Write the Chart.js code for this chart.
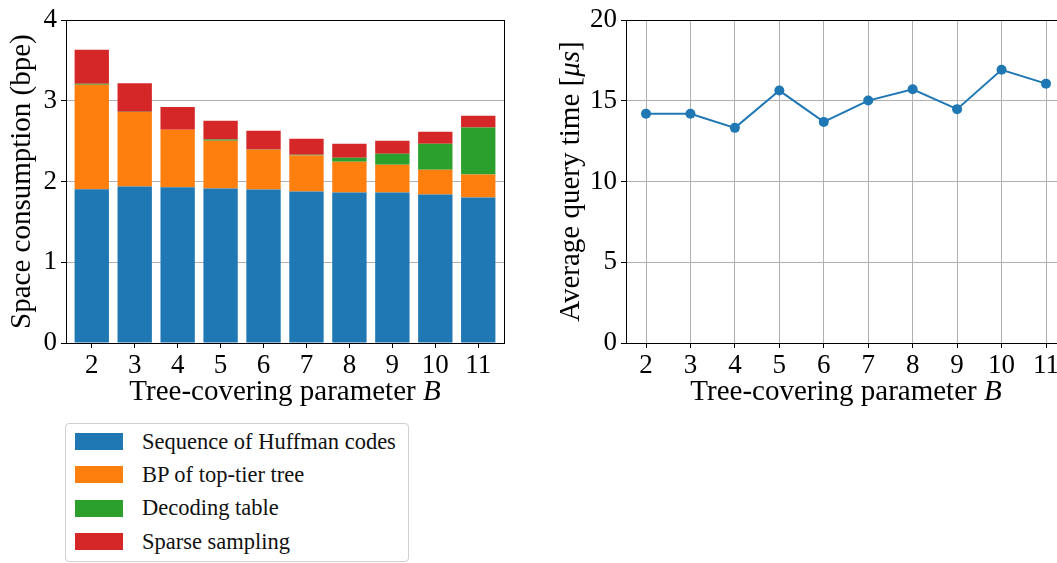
<!DOCTYPE html>
<html>
<head>
<meta charset="utf-8">
<script src="https://cdn.jsdelivr.net/npm/chart.js@4.4.0/dist/chart.umd.min.js"></script>
<style>
  html, body { margin: 0; padding: 0; background: #fff; }
  body { width: 1057px; height: 563px; overflow: hidden; position: relative; font-family: 'Liberation Serif', serif; }
  #leftWrap { position: absolute; left: 0; top: 0; }
  #rightWrap { position: absolute; left: 520px; top: 0; }
  #legend {
    position: absolute; left: 65px; top: 423px; width: 344px; height: 139px;
    border: 1px solid #d0d0d0; border-radius: 4px; box-sizing: border-box;
    padding-top: 1px;
  }
  .item { height: 33.3px; display: flex; align-items: center; font-size: 22.5px; color: #111; }
  .swatch { width: 48px; height: 17px; margin-left: 9px; margin-right: 19px; }
</style>
</head>
<body>
<div id="leftWrap"><canvas id="spaceChart" width="520" height="415"></canvas></div>
<div id="rightWrap"><canvas id="timeChart" width="560" height="415"></canvas></div>
<div id="legend"></div>

<script>
'use strict';

// tree-covering parameter B
let params = [2, 3, 4, 5, 6, 7, 8, 9, 10, 11];

// space consumption in bpe, stacked parts
let huffman  = [1.905, 1.938, 1.930, 1.914, 1.903, 1.877, 1.864, 1.864, 1.840, 1.803];
let bpTop    = [1.295, 0.926, 0.712, 0.592, 0.492, 0.446, 0.383, 0.346, 0.308, 0.284];
let decoding = [0.014, 0.002, 0.002, 0.016, 0.002, 0.010, 0.049, 0.136, 0.321, 0.584];
let sparse   = [0.419, 0.354, 0.281, 0.231, 0.232, 0.198, 0.173, 0.160, 0.148, 0.144];

// average query time in microseconds
let queryTime = [14.20, 14.20, 13.33, 15.64, 13.70, 15.02, 15.72, 14.49, 16.93, 16.07];

let seriesNames = ['Sequence of Huffman codes', 'BP of top-tier tree', 'Decoding table', 'Sparse sampling'];
let seriesColors = ['#1f77b4', '#ff7f0e', '#2ca02c', '#d62728'];
let seriesValues = [huffman, bpTop, decoding, sparse];

let spaceTicks = [0, 1, 2, 3, 4];
let timeTicks = [0, 5, 10, 15, 20];

// axis titles, split in [text, italic] pieces (math parts are italic)
let xTitle = [['Tree-covering parameter ', false], ['B', true]];
let spaceTitle = [['Space consumption (bpe)', false]];
let timeTitle = [['Average query time [', false], ['μs', true], [']', false]];

const fontFamily = "'Liberation Serif', serif";
const gridColor = '#b0b0b0';
const titleSize = 29;

// box around the plot area, like matplotlib spines
const frame = {
  id: 'frame',
  afterDraw(chart) {
    let a = chart.chartArea;
    let ctx = chart.ctx;
    ctx.save();
    ctx.strokeStyle = '#000';
    ctx.lineWidth = 1;
    ctx.strokeRect(Math.round(a.left) + 0.5, Math.round(a.top) + 0.5,
      Math.round(a.right - a.left), Math.round(a.bottom - a.top));
    ctx.restore();
  }
};

function drawPieces(ctx, pieces, cx, cy, rot) {
  ctx.save();
  ctx.translate(cx, cy);
  ctx.rotate(rot);
  ctx.textBaseline = 'middle';
  ctx.textAlign = 'left';
  ctx.fillStyle = '#000';
  let fonts = pieces.map(p => (p[1] ? 'italic ' : '') + titleSize + 'px ' + fontFamily);
  let total = 0;
  pieces.forEach((p, i) => { ctx.font = fonts[i]; total += ctx.measureText(p[0]).width; });
  let x = -total / 2;
  pieces.forEach((p, i) => {
    ctx.font = fonts[i];
    ctx.fillText(p[0], x, 0);
    x += ctx.measureText(p[0]).width;
  });
  ctx.restore();
}

// axis titles with mixed upright / italic text
const axisTitles = {
  id: 'axisTitles',
  afterDraw(chart, args, opts) {
    let a = chart.chartArea;
    let ctx = chart.ctx;
    let half = titleSize * 1.2 / 2;
    drawPieces(ctx, opts.x, (a.left + a.right) / 2, chart.height - 5 - half, 0);
    drawPieces(ctx, opts.y, opts.yPad + half, (a.top + a.bottom) / 2, -Math.PI / 2);
  }
};

function xScale(min, max, onArea) {
  return {
    type: 'linear',
    min: min,
    max: max,
    offset: false,
    afterBuildTicks: (axis) => { axis.ticks = params.map(v => ({ value: v })); },
    ticks: { color: '#000', font: { family: fontFamily, size: 27 }, padding: 2, maxRotation: 0 },
    grid: { display: true, offset: false, drawOnChartArea: onArea, color: gridColor, tickColor: '#000', tickLength: 5 },
    border: { display: false },
    afterFit: (s) => { s.height = 72; }
  };
}

function yScale(ticksList, width) {
  return {
    min: ticksList[0],
    max: ticksList[ticksList.length - 1],
    afterBuildTicks: (axis) => { axis.ticks = ticksList.map(v => ({ value: v })); },
    ticks: { color: '#000', font: { family: fontFamily, size: 27 }, padding: 4 },
    grid: { color: gridColor, tickColor: '#000', tickLength: 5 },
    border: { display: false },
    afterFit: (s) => { s.width = width; }
  };
}

let spaceX = xScale(1.4, 11.6, false);
spaceX.stacked = true;
let spaceY = yScale(spaceTicks, 66);
spaceY.stacked = true;
spaceY.z = 1;

new Chart(document.getElementById('spaceChart'), {
  type: 'bar',
  data: {
    datasets: seriesNames.map((name, i) => ({
      label: name,
      data: params.map((p, j) => ({ x: p, y: seriesValues[i][j] })),
      backgroundColor: seriesColors[i],
      borderWidth: 0,
      barPercentage: 0.8,
      categoryPercentage: 1.0
    }))
  },
  options: {
    responsive: false,
    animation: false,
    layout: { padding: { top: 17, right: 16, left: 0, bottom: 0 } },
    plugins: {
      legend: { display: false },
      tooltip: { enabled: false },
      axisTitles: { x: xTitle, y: spaceTitle, yPad: 5 }
    },
    scales: { x: spaceX, y: spaceY }
  },
  plugins: [frame, axisTitles]
});

new Chart(document.getElementById('timeChart'), {
  type: 'line',
  data: {
    datasets: [{
      label: 'Average query time',
      data: params.map((p, j) => ({ x: p, y: queryTime[j] })),
      borderColor: '#1f77b4',
      backgroundColor: '#1f77b4',
      borderWidth: 2,
      pointRadius: 5,
      pointBorderWidth: 0,
      tension: 0
    }]
  },
  options: {
    responsive: false,
    animation: false,
    layout: { padding: { top: 17, right: 14, left: 0, bottom: 0 } },
    plugins: {
      legend: { display: false },
      tooltip: { enabled: false },
      axisTitles: { x: xTitle, y: timeTitle, yPad: 34 }
    },
    scales: {
      x: xScale(1.55, 11.45, true),
      y: yScale(timeTicks, 106)
    }
  },
  plugins: [frame, axisTitles]
});

// legend box under the bar chart
let legendBox = document.getElementById('legend');
for (let i = 0; i < seriesNames.length; i++) {
  let row = document.createElement('div');
  row.className = 'item';
  let sw = document.createElement('span');
  sw.className = 'swatch';
  sw.style.background = seriesColors[i];
  let txt = document.createElement('span');
  txt.textContent = seriesNames[i];
  row.appendChild(sw);
  row.appendChild(txt);
  legendBox.appendChild(row);
}
</script>
</body>
</html>
